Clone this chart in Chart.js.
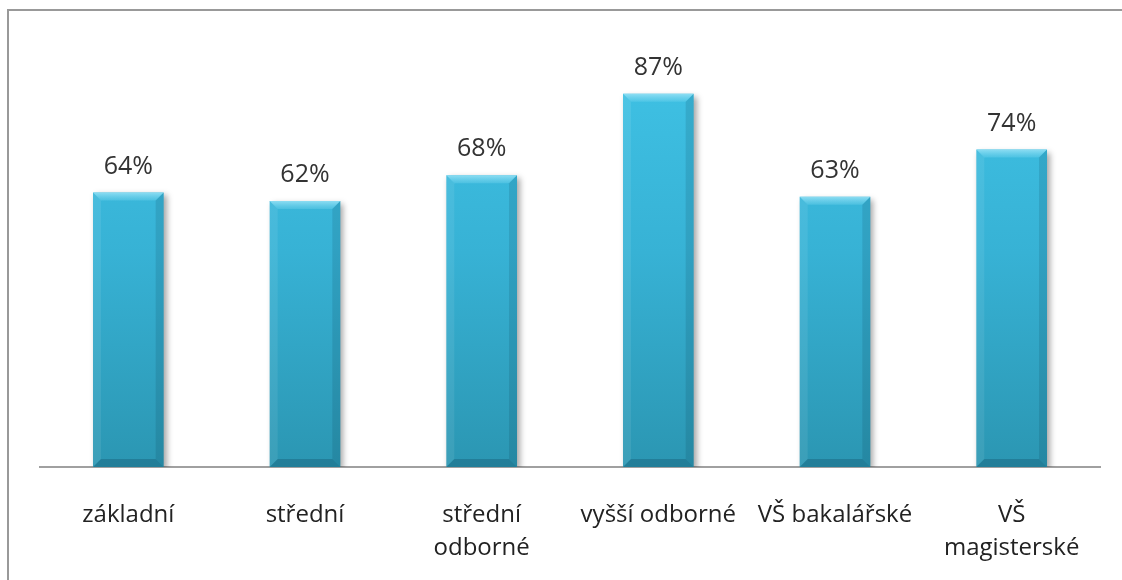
<!DOCTYPE html>
<html>
<head>
<meta charset="utf-8">
<script src="https://cdn.jsdelivr.net/npm/chart.js@4/dist/chart.umd.min.js"></script>
<style>
  html, body { margin: 0; padding: 0; background: #fff; overflow: hidden; }
  #wrap { position: relative; width: 1122px; height: 580px; }
</style>
</head>
<body>
<div id="wrap">
  <canvas id="barChart" width="1122" height="580"></canvas>
</div>
<script>
const categories = [['základní'], ['střední'], ['střední', 'odborné'], ['vyšší odborné'], ['VŠ bakalářské'], ['VŠ', 'magisterské']];
const values = [64, 62, 68, 87, 63, 74];

const FONT = '"Open Sans", Lato, sans-serif';

// gradient fill for bars
function barFill(context) {
    const chart = context.chart;
    const area = chart.chartArea;
    if (!area) return '#38b5d8';
    const el = context.element;
    const top = el && el.y !== undefined ? el.y : area.top;
    const g = chart.ctx.createLinearGradient(0, top, 0, area.bottom);
    g.addColorStop(0, '#40c4e7');
    g.addColorStop(0.5, '#37b2d5');
    g.addColorStop(1, '#2b96b2');
    return g;
}

// outer frame (left and top only)
const framePlugin = {
    id: 'frame',
    beforeDraw(chart) {
        const c = chart.ctx;
        c.save();
        c.strokeStyle = '#999';
        c.lineWidth = 2;
        c.beginPath();
        c.moveTo(8, chart.height);
        c.lineTo(8, 10);
        c.lineTo(chart.width, 10);
        c.stroke();
        c.restore();
    }
};

// shadow + bevel + value labels
const bevelPlugin = {
    id: 'bevel',
    beforeDatasetsDraw(chart) {
        const c = chart.ctx;
        c.save();
        c.shadowColor = 'rgba(0,0,0,0.35)';
        c.shadowBlur = 6;
        c.shadowOffsetX = 3;
        c.shadowOffsetY = 3;
    },
    afterDatasetsDraw(chart) {
        const c = chart.ctx;
        c.restore();
        const meta = chart.getDatasetMeta(0);
        meta.data.forEach((bar, i) => {
            const l = bar.x - bar.width / 2, r = bar.x + bar.width / 2;
            const t = bar.y, b = bar.base, s = 8;
            c.save();
            // top bevel
            const tg = c.createLinearGradient(0, t, 0, t + s);
            tg.addColorStop(0, 'rgba(150,225,245,0.9)');
            tg.addColorStop(1, 'rgba(120,215,240,0.3)');
            c.fillStyle = tg;
            c.beginPath();
            c.moveTo(l, t); c.lineTo(r, t); c.lineTo(r - s, t + s); c.lineTo(l + s, t + s);
            c.closePath(); c.fill();
            // left bevel
            c.fillStyle = 'rgba(255,255,255,0.08)';
            c.beginPath();
            c.moveTo(l, t); c.lineTo(l + s, t + s); c.lineTo(l + s, b - s); c.lineTo(l, b);
            c.closePath(); c.fill();
            // right bevel
            c.fillStyle = 'rgba(0,30,50,0.12)';
            c.beginPath();
            c.moveTo(r, t); c.lineTo(r - s, t + s); c.lineTo(r - s, b - s); c.lineTo(r, b);
            c.closePath(); c.fill();
            // bottom bevel
            c.fillStyle = 'rgba(0,30,50,0.2)';
            c.beginPath();
            c.moveTo(l, b); c.lineTo(l + s, b - s); c.lineTo(r - s, b - s); c.lineTo(r, b);
            c.closePath(); c.fill();
            c.restore();

            // value label
            c.save();
            c.font = '25px ' + FONT;
            c.fillStyle = '#333';
            c.textAlign = 'center';
            c.textBaseline = 'middle';
            c.fillText(values[i] + '%', bar.x, t - 26);
            c.restore();
        });
    }
};

const ctx = document.getElementById('barChart').getContext('2d');
const barChart = new Chart(ctx, {
    type: 'bar',
    data: {
        labels: categories,
        datasets: [{
            data: values,
            backgroundColor: barFill,
            borderWidth: 0,
            categoryPercentage: 0.8,
            barPercentage: 0.5
        }]
    },
    options: {
        responsive: false,
        animation: false,
        events: [],
        layout: { padding: { left: 40, right: 22, top: 38, bottom: 0 } },
        plugins: { legend: { display: false }, tooltip: { enabled: false } },
        scales: {
            y: { display: false, min: 0, max: 100 },
            x: {
                grid: { display: false, drawTicks: false },
                border: { display: true, color: '#a0a0a0', width: 2 },
                ticks: {
                    color: '#222',
                    font: { family: FONT, size: 24, lineHeight: 1.375 },
                    padding: 32,
                    maxRotation: 0,
                    autoSkip: false
                },
                afterFit(scale) { scale.height = 113; }
            }
        }
    },
    plugins: [framePlugin, bevelPlugin]
});
</script>
</body>
</html>
